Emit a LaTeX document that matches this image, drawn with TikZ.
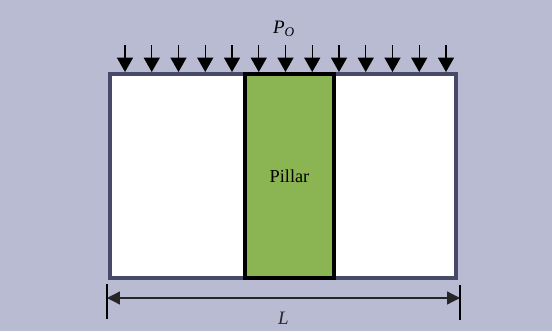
\documentclass[tikz,border=0pt]{standalone}
\usepackage{fontspec}
\setmainfont{Liberation Serif}
\usetikzlibrary{arrows.meta,positioning,calc}
\definecolor{backgr}{RGB}{185,187,211}
\definecolor{slate}{RGB}{72,72,104}
\definecolor{pillargreen}{RGB}{138,181,82}

\begin{document}
\begin{tikzpicture}[
            block/.style={
                    draw=slate,
                    fill=white,
                    rectangle,
                    line width=2.8pt,
                    inner sep=0pt,
                    outer sep=0pt,
                    minimum width=8.65cm,
                    minimum height=5.1cm
                },
            pillarbox/.style={
                    draw=black,
                    fill=pillargreen,
                    rectangle,
                    line width=2.8pt,
                    inner sep=0pt,
                    outer sep=0pt,
                    minimum width=2.225cm,
                    minimum height=5.1cm,
                    font=\fontsize{13}{15}\selectfont
                },
            load/.style={
            -{Triangle[length=0.36cm,width=0.4cm]},
            color=black,
            line width=1pt
            },
            dimline/.style={
            {Triangle[length=0.32cm,width=0.32cm]}-{Triangle[length=0.32cm,width=0.32cm]},
            color=black!85,
            line width=0.9pt
            },
            label/.style={
                    font=\fontsize{13.5}{15}\selectfont\itshape
                }
            ]

            % Fondo
            \fill[backgr] (0,0) rectangle (13.8,8.275);
            \useasboundingbox (0,0) rectangle (13.8,8.275);

            % Bloque y pilar
            \node[block] (body) at (7.075,3.875) {};
            \node[pillarbox] (pillar) at (7.2375,3.875) {Pillar};

            % Carga distribuida
            \foreach \i in {0,...,12} {
                    \coordinate (loadTop\i) at ({3.125+0.66875*\i},7.15);
                    \coordinate (loadTip\i) at ({3.125+0.66875*\i},6.475);
                    \draw[load] (loadTop\i) -- (loadTip\i);
                }
            \node[label] (load) at (7.1,7.55) {P\textsubscript{O}};

            % Cota
            \coordinate (dimLeft) at (2.675,0.825);
            \coordinate (dimRight) at (11.5,0.825);
            \draw[line width=0.9pt] (2.675,1.175) -- (2.675,0.3);
            \draw[line width=0.9pt] (11.5,1.15) -- (11.5,0.275);
            \draw[dimline] (dimLeft) -- (dimRight)
            node[midway, below=6pt, label] (len) {L};

        \end{tikzpicture}
\end{document}
